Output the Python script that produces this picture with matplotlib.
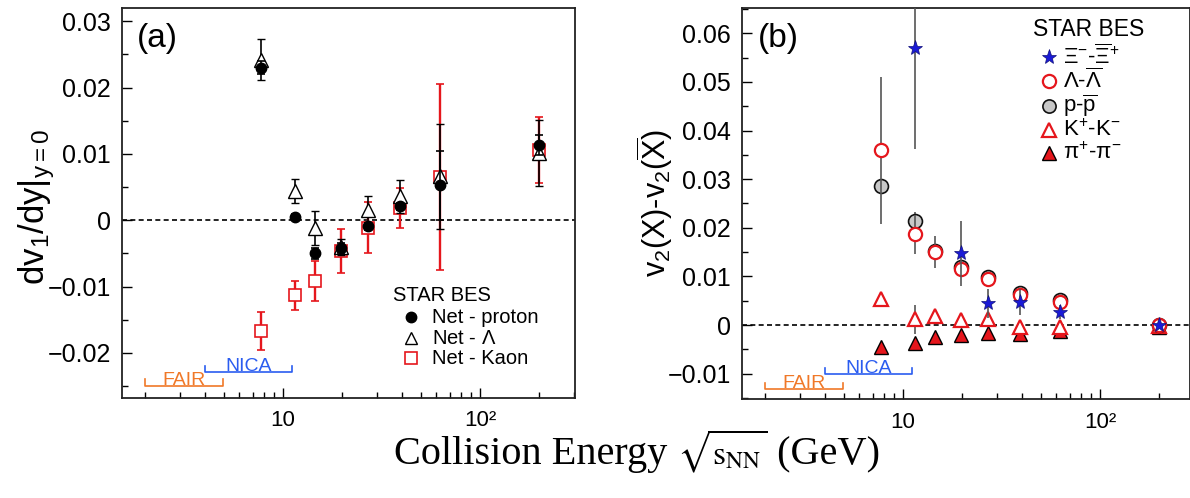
import matplotlib
matplotlib.use('Agg')
import matplotlib.pyplot as plt
import matplotlib.ticker as mticker
import matplotlib.transforms as mtransforms

plt.rcParams['font.family'] = ['Liberation Sans', 'DejaVu Sans']
plt.rcParams['mathtext.fontset'] = 'custom'
plt.rcParams['mathtext.rm'] = 'Liberation Sans'
plt.rcParams['mathtext.it'] = 'Liberation Sans:italic'
plt.rcParams['mathtext.bf'] = 'Liberation Sans:bold'

# ---------------- data ----------------
energy = [7.7, 11.5, 14.5, 19.6, 27, 39, 62.4, 200]

# panel (a): dv1/dy at y=0
net_p = [0.0230, 0.0005, -0.0050, -0.0042, -0.0009, 0.0021, 0.0053, 0.0113]
net_p_err = [0.0010, 0.0004, 0.0008, 0.0008, 0.0005, 0.0005, 0.0052, 0.0015]
net_lam = [0.0242, 0.0044, -0.0012, -0.0040, 0.0015, 0.0036, 0.0066, 0.0101]
net_lam_err = [0.0031, 0.0018, 0.0026, 0.0012, 0.0021, 0.0025, 0.0079, 0.0050]
net_k = [-0.0167, -0.0113, -0.0092, -0.0046, -0.0011, 0.0019, 0.0065, 0.0106]
net_k_err = [0.0029, 0.0022, 0.0030, 0.0033, 0.0038, 0.0030, 0.0140, 0.0050]

# panel (b): v2(X) - v2(Xbar)
xi_energy = [11.5, 19.6, 27, 39, 62.4, 200]
xi_diff = [0.0569, 0.0148, 0.0045, 0.0047, 0.0027, 0.0001]
xi_err = [0.0207, 0.0067, 0.0030, 0.0027, 0.0015, 0.0008]
lam_diff = [0.0359, 0.0187, 0.0150, 0.0115, 0.0095, 0.0062, 0.0048, 0.0001]
lam_err = [0.0152, 0.0040, 0.0033, 0.0015, 0.0012, 0.0010, 0.0008, 0.0005]
p_diff = [0.0285, 0.0215, 0.0152, 0.0120, 0.0098, 0.0066, 0.0052, 0.0001]
p_err = [0.0010, 0.0018, 0.0008, 0.0005, 0.0004, 0.0003, 0.0003, 0.0002]
k_diff = [0.0054, 0.0012, 0.0019, 0.0010, 0.0012, -0.0003, -0.0003, -0.0002]
k_err = [0.0010, 0.0030, 0.0010, 0.0008, 0.0010, 0.0008, 0.0006, 0.0003]
pi_diff = [-0.0045, -0.0036, -0.0024, -0.0021, -0.0017, -0.0019, -0.0012, -0.0004]
pi_err = [0.0003, 0.0003, 0.0003, 0.0003, 0.0003, 0.0003, 0.0003, 0.0003]

fair_range = (2.0, 4.95)
nica_range = (4.0, 11.1)

legend_a = ['Net - proton', r'Net - $\Lambda$', 'Net - Kaon']
legend_b = [r'$\Xi^{-}$-$\overline{\Xi}^{+}$', r'$\Lambda$-$\overline{\Lambda}$',
            r'p-$\overline{\mathrm{p}}$', r'K$^{+}$-K$^{-}$', '\u03c0$^{+}$-\u03c0$^{-}$']

RED = '#e5161c'
BLUE = '#1a1ad6'
ORANGE = '#f07828'
NBLUE = '#2a5cf0'

W, H = 1190, 498
fig = plt.figure(figsize=(W / 100, H / 100), dpi=100)
axa = fig.add_axes([122 / W, 1 - 398 / H, 453 / W, 390 / H])
axb = fig.add_axes([742 / W, 1 - 399 / H, 448 / W, 391 / H])


def style(ax, ylim, xlim, ymaj, ymin):
    ax.set_xscale('log')
    ax.set_xlim(*xlim)
    ax.set_ylim(*ylim)
    ax.xaxis.set_major_locator(mticker.FixedLocator([10, 100]))
    ax.xaxis.set_major_formatter(mticker.FixedFormatter(['10', '10\u00b2']))
    ax.xaxis.set_minor_locator(mticker.LogLocator(base=10, subs=range(2, 10)))
    ax.xaxis.set_minor_formatter(mticker.NullFormatter())
    ax.yaxis.set_major_locator(mticker.MultipleLocator(ymaj))
    ax.yaxis.set_minor_locator(mticker.MultipleLocator(ymin))
    ax.yaxis.set_major_formatter(mticker.FuncFormatter(
        lambda v, p: '0' if abs(v) < 1e-9 else ('%.2f' % v).replace('-', '\u2212')))
    ax.tick_params(which='both', direction='in', top=False, right=False)
    ax.tick_params(which='major', length=7, width=1.0)
    ax.tick_params(which='minor', length=4.5, width=1.0)
    ax.tick_params(axis='y', which='major', labelsize=18, pad=8)
    ax.tick_params(axis='x', which='major', labelsize=16, pad=9)
    for s in ax.spines.values():
        s.set_linewidth(1.3)
        s.set_color('#222222')
    ax.axhline(0, color='black', lw=1.2, ls=(0, (3, 2)), zorder=1)


style(axa, (-0.0268, 0.032), (1.52, 303), 0.01, 0.005)
style(axb, (-0.0152, 0.0652), (1.52, 286), 0.01, 0.005)


def bracket(ax, rng, yfrac, color, label):
    tr = mtransforms.blended_transform_factory(ax.transData, ax.transAxes)
    t = 0.016
    ax.plot([rng[0], rng[0], rng[1], rng[1]], [yfrac + t, yfrac, yfrac, yfrac + t],
            color=color, lw=1.2, transform=tr, clip_on=False)
    xc = (rng[0] * rng[1]) ** 0.5
    ax.text(xc, yfrac + 0.002, label, color=color, transform=tr, ha='center',
            va='baseline', fontsize=14)


# ---------------- panel (a) ----------------
axa.errorbar(energy, net_k, yerr=net_k_err, fmt='s', ms=8, mfc='white', mec=RED, mew=1.2,
             ecolor=RED, elinewidth=1.7, capsize=3, capthick=1.5, zorder=3)
axa.errorbar(energy, net_lam, yerr=net_lam_err, fmt='^', ms=9.5, mfc='white', mec='black',
             mew=1.0, ecolor='black', elinewidth=1.2, capsize=3, capthick=1.2, zorder=4)
axa.errorbar(energy, net_p, yerr=net_p_err, fmt='o', ms=7.5, mfc='black', mec='black',
             ecolor='black', elinewidth=1.2, capsize=3, capthick=1.2, zorder=5)

axa.text(0.033, 0.923, '(a)', transform=axa.transAxes, fontsize=24, va='center', ha='left')
axa.text(0.598, 0.264, 'STAR BES', transform=axa.transAxes, fontsize=14.5, va='center')
leg_a_styles = [dict(marker='o', ms=7.5, mfc='black', mec='black'),
                dict(marker='^', ms=9, mfc='white', mec='black', mew=1.0),
                dict(marker='s', ms=8, mfc='white', mec=RED, mew=1.2)]
for i, (lab, st) in enumerate(zip(legend_a, leg_a_styles)):
    yy = [0.207, 0.153, 0.102][i]
    axa.plot([0.638], [yy], transform=axa.transAxes, ls='none', clip_on=False, **st)
    axa.text(0.684, yy, lab, transform=axa.transAxes, fontsize=14.5, va='center')

bracket(axa, fair_range, 0.032, ORANGE, 'FAIR')
bracket(axa, nica_range, 0.066, NBLUE, 'NICA')

# ---------------- panel (b) ----------------
GRAY = '#555555'
axb.errorbar(energy, pi_diff, yerr=pi_err, fmt='^', ms=9.5, mfc=RED, mec='black', mew=1.0,
             ecolor=GRAY, elinewidth=1.2, zorder=3)
axb.errorbar(energy, k_diff, yerr=k_err, fmt='^', ms=9.5, mfc='white', mec=RED, mew=1.6,
             ecolor=GRAY, elinewidth=1.2, zorder=4)
axb.errorbar(energy, p_diff, yerr=p_err, fmt='o', ms=10, mfc='#c8c8c8', mec='#111111', mew=1.2,
             ecolor=GRAY, elinewidth=1.2, zorder=5)
axb.errorbar(energy, lam_diff, yerr=lam_err, fmt='o', ms=9.5, mfc='white', mec=RED, mew=1.6,
             ecolor=GRAY, elinewidth=1.2, zorder=6)
axb.errorbar(xi_energy, xi_diff, yerr=xi_err, fmt='*', ms=11, mfc=BLUE, mec='#10107a', mew=0.5,
             ecolor=GRAY, elinewidth=1.2, zorder=7)

axb.text(0.036, 0.923, '(b)', transform=axb.transAxes, fontsize=24, va='center', ha='left')
axb.text(0.65, 0.944, 'STAR BES', transform=axb.transAxes, fontsize=16.5, va='center')
leg_b_styles = [dict(marker='*', ms=11, mfc=BLUE, mec='#10107a', mew=0.5),
                dict(marker='o', ms=9.5, mfc='white', mec=RED, mew=1.6),
                dict(marker='o', ms=9.5, mfc='#c8c8c8', mec='#111111', mew=1.2),
                dict(marker='^', ms=9.5, mfc='white', mec=RED, mew=1.6),
                dict(marker='^', ms=9.5, mfc=RED, mec='black', mew=1.0)]
rows_b = [0.875, 0.813, 0.749, 0.688, 0.629]
for lab, st, yy in zip(legend_b, leg_b_styles, rows_b):
    axb.plot([0.685], [yy], transform=axb.transAxes, ls='none', clip_on=False, **st)
    axb.text(0.717, yy, lab, transform=axb.transAxes, fontsize=16, va='center')

bracket(axb, fair_range, 0.026, ORANGE, 'FAIR')
bracket(axb, nica_range, 0.064, NBLUE, 'NICA')

# ---------------- labels ----------------
fig.text(37 / W, 1 - 207 / H, r'dv$_1$/dy$|_{\mathrm{y=0}}$', rotation=90, fontsize=25,
         ha='center', va='center')
fig.text(655 / W, 1 - 203 / H, r'v$_2$(X)-v$_2$($\overline{\mathrm{X}}$)', rotation=90,
         fontsize=22, ha='center', va='center')

# x label built from three pieces so that the radical stays compact
renderer = fig.canvas.get_renderer()
base_y = 1 - 464 / H
pieces = [('Collision Energy ', dict(fontsize=29, family='Liberation Serif')),
          (r'$\sqrt{\mathrm{s}_{\mathrm{NN}}}$', dict(fontsize=24, math_fontfamily='stix')),
          (' (GeV)', dict(fontsize=29, family='Liberation Serif'))]
texts = []
for s, kw in pieces:
    t = fig.text(0, base_y, s, ha='left', va='baseline', **kw)
    bb = t.get_window_extent(renderer)
    texts.append((t, bb.width))
total = sum(w for _, w in texts)
start = 637 - total / 2
for t, w in texts:
    t.set_x(start / W)
    start += w

fig.savefig('out.png', dpi=100)
